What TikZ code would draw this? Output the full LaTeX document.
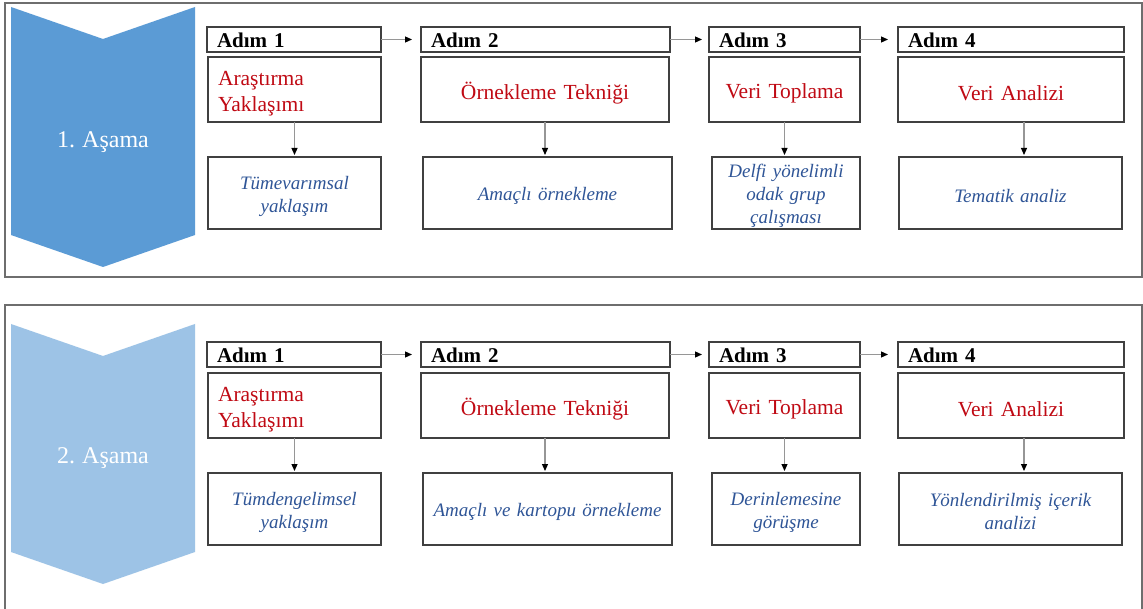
\documentclass[tikz,border=0pt]{standalone}
\usepackage{fontspec}
\setmainfont[WordSpace=0.85]{Liberation Serif}
\usetikzlibrary{arrows.meta}
\definecolor{chevA}{RGB}{91,155,213}
\definecolor{chevB}{RGB}{157,195,230}
\definecolor{redtx}{RGB}{192,10,20}
\definecolor{bluetx}{RGB}{47,85,151}
\definecolor{boxline}{RGB}{64,64,64}
\definecolor{panelline}{RGB}{110,110,110}
\definecolor{arrline}{RGB}{150,150,150}
\tikzset{
  boxbase/.style={draw=boxline, line width=1.4pt, inner sep=0pt, outer sep=0pt, fill=white},
  txtbase/.style={inner ysep=0pt, inner xsep=10pt},
  headtx/.style={txtbase, align=left, font=\fontsize{21}{24}\selectfont\bfseries},
  redtxc/.style={txtbase, align=center, text=redtx, font=\fontsize{21.5}{26}\selectfont},
  redtxl/.style={txtbase, align=left, text=redtx, font=\fontsize{21.5}{26}\selectfont},
  bluetxc/.style={txtbase, align=center, text=bluetx, font=\fontsize{19}{23}\selectfont\itshape},
  panel/.style={draw=panelline, line width=1.2pt},
  chevtext/.style={text=white, font=\fontsize{24}{28}\selectfont},
  flow/.style={draw=arrline, line width=1.2pt, -{Triangle[length=7pt,width=6pt,color=black]}}
}
% name, x1, y1, x2, y2, text style, yshift, text
\newcommand\bx[8]{%
  \pgfmathsetmacro\bw{#4-#2}%
  \pgfmathsetmacro\bh{#5-#3}%
  \pgfmathsetmacro\tw{#4-#2-20}%
  \node[boxbase, minimum width=\bw pt, minimum height=\bh pt]
    (#1) at ({(#2+#4)/2},{(#3+#5)/2}) {};
  \node[#6, text width=\tw pt, yshift=#7] (#1-t) at (#1.center) {#8};}
\begin{document}
\begin{tikzpicture}[x=1pt,y=-1pt]
\useasboundingbox (0,0) rectangle (1143,609);
\fill[white] (0,0) rectangle (1143,609);

% ---------- Panel 1 ----------
\draw[panel] (5,3) rectangle (1142,277);
\fill[chevA] (11,7) -- (103,39) -- (195,7) -- (195,235) -- (103,267) -- (11,235) -- cycle;
\node[chevtext] (ch1) at (103,142) {1. Aşama};

\bx{h11}{207}{27}{381}{52}{headtx}{-1pt}{Adım 1}
\bx{c11}{208}{57}{381}{122}{redtxl}{-4pt}{Araştırma\\Yaklaşımı}
\bx{l11}{208}{157}{381}{229}{bluetxc}{-3pt}{Tümevarımsal\\yaklaşım}

\bx{h12}{421}{27}{670}{52}{headtx}{-1pt}{Adım 2}
\bx{c12}{421}{57}{669}{122}{redtxc}{-4pt}{Örnekleme Tekniği}
\bx{l12}{423}{157}{672}{229}{bluetxc}{-3pt}{Amaçlı örnekleme}

\bx{h13}{709}{27}{860}{52}{headtx}{-1pt}{Adım 3}
\bx{c13}{709}{57}{860}{122}{redtxc}{-4pt}{Veri Toplama}
\bx{l13}{712}{157}{860}{229}{bluetxc}{-3pt}{Delfi yönelimli\\odak grup\\çalışması}

\bx{h14}{898}{27}{1124}{52}{headtx}{-1pt}{Adım 4}
\bx{c14}{898}{57}{1124}{122}{redtxc}{-4pt}{Veri Analizi}
\bx{l14}{899}{157}{1122}{229}{bluetxc}{-3pt}{Tematik analiz}

\draw[flow, shorten >=9pt] (h11.east) -- (h12.west);
\draw[flow, shorten >=7pt] (h12.east) -- (h13.west);
\draw[flow, shorten >=10pt] (h13.east) -- (h14.west);
\draw[flow, shorten >=2pt] (c11.south) -- (c11.south |- l11.north);
\draw[flow, shorten >=2pt] (c12.south) -- (c12.south |- l12.north);
\draw[flow, shorten >=2pt] (c13.south) -- (c13.south |- l13.north);
\draw[flow, shorten >=2pt] (c14.south -| 1024,0) -- (1024,157);

% ---------- Panel 2 ----------
\draw[panel] (5,615) -- (5,305) -- (1142,305) -- (1142,615);
\fill[chevB] (11,324) -- (103,356) -- (195,324) -- (195,552) -- (103,584) -- (11,552) -- cycle;
\node[chevtext] (ch2) at (103,458) {2. Aşama};

\bx{h21}{207}{342}{381}{367}{headtx}{-1pt}{Adım 1}
\bx{c21}{208}{373}{381}{438}{redtxl}{-4pt}{Araştırma\\Yaklaşımı}
\bx{l21}{208}{473}{381}{545}{bluetxc}{-3pt}{Tümdengelimsel\\yaklaşım}

\bx{h22}{421}{342}{670}{367}{headtx}{-1pt}{Adım 2}
\bx{c22}{421}{373}{669}{438}{redtxc}{-4pt}{Örnekleme Tekniği}
\bx{l22}{423}{473}{672}{545}{bluetxc}{-3pt}{Amaçlı ve kartopu örnekleme}

\bx{h23}{709}{342}{860}{367}{headtx}{-1pt}{Adım 3}
\bx{c23}{709}{373}{860}{438}{redtxc}{-4pt}{Veri Toplama}
\bx{l23}{712}{473}{860}{545}{bluetxc}{-3pt}{Derinlemesine\\görüşme}

\bx{h24}{898}{342}{1124}{367}{headtx}{-1pt}{Adım 4}
\bx{c24}{898}{373}{1124}{438}{redtxc}{-4pt}{Veri Analizi}
\bx{l24}{899}{473}{1122}{545}{bluetxc}{-3pt}{Yönlendirilmiş içerik\\analizi}

\draw[flow, shorten >=9pt] (h21.east) -- (h22.west);
\draw[flow, shorten >=7pt] (h22.east) -- (h23.west);
\draw[flow, shorten >=10pt] (h23.east) -- (h24.west);
\draw[flow, shorten >=2pt] (c21.south) -- (c21.south |- l21.north);
\draw[flow, shorten >=2pt] (c22.south) -- (c22.south |- l22.north);
\draw[flow, shorten >=2pt] (c23.south) -- (c23.south |- l23.north);
\draw[flow, shorten >=2pt] (c24.south -| 1024,0) -- (1024,473);
\end{tikzpicture}
\end{document}
